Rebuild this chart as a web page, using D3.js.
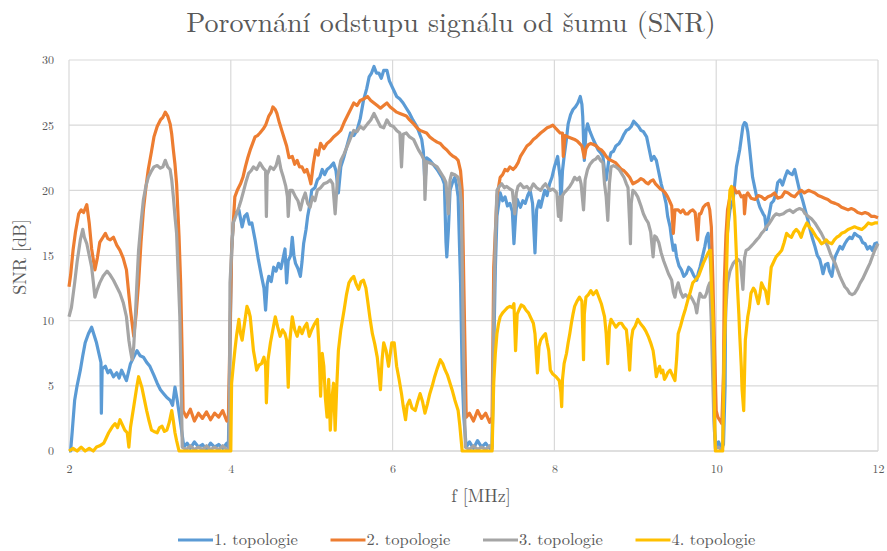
<!DOCTYPE html>
<html>
<head>
<meta charset="utf-8">
<script src="https://cdn.jsdelivr.net/npm/d3@7"></script>
<style>
  body { margin: 0; background: #fff; }
  svg text { font-family: "Latin Modern Roman", "Liberation Serif", serif; fill: #595959; }
</style>
</head>
<body>
<svg></svg>
<script>
let width = 887, height = 551;

// SNR [dB] vs f [MHz]
const topo1 = [[2.00,0],[2.02,0],[2.04,1.5],[2.07,3.9],[2.10,5.0],[2.14,6.2],[2.17,7.3],[2.20,8.3],[2.24,9.0],[2.28,9.5],[2.31,8.9],[2.34,8.3],[2.38,7.2],[2.395,6.8],[2.40,2.9],[2.41,6.3],[2.45,6.5],[2.48,6.0],[2.51,6.2],[2.55,5.7],[2.59,6.0],[2.62,5.6],[2.65,6.2],[2.68,5.8],[2.71,5.4],[2.76,6.7],[2.80,7.2],[2.84,7.7],[2.88,7.3],[2.92,7.2],[2.96,6.8],[3.00,6.5],[3.05,5.8],[3.09,5.2],[3.13,4.7],[3.17,4.4],[3.21,4.1],[3.25,3.9],[3.28,3.5],[3.31,4.9],[3.34,3.8],[3.38,2.1],[3.42,0.3],[3.46,0.6],[3.50,0.2],[3.55,0.7],[3.60,0.3],[3.65,0.5],[3.70,0.1],[3.75,0.6],[3.80,0.3],[3.85,0.5],[3.90,0.2],[3.95,0.6],[3.97,0.2],[3.99,8.0],[4.01,15.4],
  [4.03,17.5],[4.05,18.2],[4.10,18.5],[4.14,17.2],[4.17,18.0],[4.20,18.2],[4.23,17.4],[4.26,17.5],[4.30,16.2],[4.34,14.7],[4.38,13.4],[4.41,12.5],[4.43,10.8],[4.45,12.8],[4.47,13.4],[4.50,13.0],[4.53,14.1],[4.56,13.8],[4.59,14.4],[4.62,14.0],[4.65,14.9],[4.67,15.5],[4.69,12.9],[4.71,14.6],[4.74,15.0],[4.76,16.4],[4.78,15.0],[4.80,14.4],[4.83,14.0],[4.86,13.4],[4.88,14.5],[4.90,15.9],[4.93,17.0],[4.95,18.0],[4.98,19.0],[5.00,20.0],[5.04,20.2],[5.07,20.8],[5.10,21.0],[5.13,21.6],[5.16,21.2],[5.19,21.6],[5.23,21.8],[5.27,22.1],[5.30,21.5],[5.33,19.8],[5.36,21.8],[5.40,22.6],[5.44,23.5],[5.48,24.4],[5.52,24.2],[5.56,24.6],[5.60,25.5],[5.64,26.9],[5.68,27.8],[5.71,28.7],[5.74,29.0],[5.77,29.5],[5.80,29.0],[5.83,29.0],[5.86,28.6],[5.89,29.2],[5.93,29.2],[5.96,28.4],[5.99,28.0],[6.02,27.6],[6.05,27.2],[6.09,27.0],[6.13,26.7],[6.17,26.3],[6.21,25.9],[6.25,25.4],[6.30,24.9],[6.33,24.4],[6.36,23.9],[6.38,23.0],[6.40,20.5],[6.42,22.5],[6.46,22.3],[6.50,22.0],[6.55,21.6],[6.58,21.3],[6.61,21.0],[6.64,20.5],[6.66,16.0],[6.67,14.9],[6.69,17.0],[6.71,20.0],[6.74,20.6],[6.77,21.0],[6.79,20.4],[6.81,19.5],[6.84,12.9],[6.86,6.0],[6.88,2.6],[6.91,0.3],[6.95,0.7],[7.00,0.2],[7.05,0.8],[7.10,0.3],[7.15,0.6],[7.20,0.2],[7.23,0.4],[7.25,7.7],[7.27,14.0],[7.29,18.0],[7.33,19.8],[7.36,19.2],[7.39,19.5],[7.42,18.8],[7.45,19.0],[7.48,18.4],[7.50,15.9],[7.52,18.0],[7.54,19.3],[7.58,18.7],[7.61,19.2],[7.64,19.0],[7.67,19.6],[7.70,20.0],[7.73,19.0],[7.76,15.2],[7.78,18.5],[7.81,19.2],[7.83,18.7],[7.86,19.5],[7.88,20.0],[7.91,19.6],[7.94,20.5],[7.97,21.0],
  [8.00,21.8],[8.04,22.6],[8.07,21.0],[8.08,19.0],[8.10,21.5],[8.12,22.6],[8.15,24.0],[8.17,25.1],[8.20,25.8],[8.23,26.2],[8.26,26.4],[8.29,26.7],[8.32,27.2],[8.34,26.6],[8.35,25.7],[8.37,22.3],[8.39,24.5],[8.41,25.1],[8.44,24.5],[8.48,23.9],[8.51,23.5],[8.54,23.1],[8.57,22.9],[8.60,22.6],[8.62,21.5],[8.64,20.8],[8.67,22.2],[8.70,22.9],[8.73,23.0],[8.76,23.4],[8.80,23.6],[8.83,23.9],[8.86,24.3],[8.89,24.6],[8.92,24.7],[8.95,24.9],[8.98,25.3],[9.01,25.1],[9.04,24.9],[9.07,24.6],[9.10,24.5],[9.14,24.1],[9.17,23.2],[9.20,22.3],[9.23,22.6],[9.26,22.3],[9.29,21.4],[9.32,20.5],[9.35,19.8],[9.38,19.0],[9.40,18.0],[9.43,17.2],[9.45,16.2],[9.47,15.4],[9.49,15.8],[9.51,14.9],[9.54,14.2],[9.57,13.9],[9.60,13.4],[9.63,13.6],[9.66,14.1],[9.69,13.9],[9.72,13.5],[9.76,13.1],[9.78,13.7],[9.80,14.1],[9.83,14.9],[9.86,15.7],[9.88,16.4],[9.90,16.7],[9.92,15.4],[9.94,13.4],[9.96,7.7],[9.98,1.4],[10.00,0.3],[10.03,0.7],[10.06,0.2],[10.09,0.5],[10.11,5.0],[10.12,15.4],[10.15,17.5],[10.17,18.5],[10.21,19.3],[10.25,21.8],[10.29,23.1],[10.31,24.0],[10.33,24.9],[10.35,25.2],[10.37,25.1],[10.39,24.5],[10.41,23.4],[10.43,22.2],[10.45,21.0],[10.50,19.5],[10.54,18.7],[10.58,18.2],[10.60,18.0],[10.62,17.0],[10.65,18.0],[10.68,19.0],[10.71,19.2],[10.74,19.8],[10.76,20.6],[10.79,20.8],[10.82,20.4],[10.85,21.0],[10.88,21.5],[10.91,21.3],[10.94,21.2],[10.97,21.6],[11.00,20.8],[11.03,20.0],[11.07,19.2],[11.10,18.5],[11.13,17.8],[11.16,17.0],[11.19,16.3],[11.22,15.7],[11.25,15.0],[11.28,14.7],[11.30,14.2],[11.32,13.6],[11.35,14.3],[11.38,14.4],[11.40,13.8],[11.43,13.4],[11.45,14.2],[11.47,14.9],[11.50,15.3],[11.53,15.7],[11.56,15.5],[11.59,15.9],[11.62,16.2],[11.65,16.4],[11.68,16.3],[11.71,16.7],[11.75,16.5],[11.78,16.4],[11.81,16.0],[11.84,15.9],[11.87,15.5],[11.90,15.7],[11.93,15.4],[11.96,15.9],[12.00,16.0]];

const topo2 = [[2.00,12.6],[2.02,13.5],[2.05,15.4],[2.08,16.8],[2.12,18.2],[2.15,18.5],[2.18,18.3],[2.22,18.9],[2.25,17.5],[2.28,15.5],[2.32,13.9],[2.35,14.8],[2.38,16.0],[2.42,16.4],[2.45,16.7],[2.48,16.3],[2.51,16.2],[2.55,16.4],[2.59,15.8],[2.63,15.4],[2.67,14.8],[2.71,13.9],[2.74,12.0],[2.76,10.8],[2.80,8.8],[2.83,10.5],[2.86,12.9],[2.89,16.0],[2.92,18.5],[2.95,20.2],[2.98,21.6],[3.02,23.0],[3.05,24.1],[3.09,24.9],[3.13,25.4],[3.16,25.6],[3.19,26.0],[3.22,25.7],[3.25,25.1],[3.27,24.3],[3.29,23.1],[3.31,22.0],[3.33,20.5],[3.36,16.5],[3.38,12.9],[3.40,7.0],[3.41,3.1],[3.45,2.6],[3.50,3.2],[3.55,2.3],[3.60,2.9],[3.65,2.5],[3.70,3.0],[3.75,2.4],[3.80,2.9],[3.85,2.6],[3.90,3.1],[3.95,2.3],[3.97,2.5],
  [4.01,15.4],[4.05,19.5],[4.08,20.0],[4.12,20.5],[4.15,21.0],[4.18,21.8],[4.21,22.5],[4.24,23.1],[4.27,23.6],[4.30,24.1],[4.33,24.2],[4.36,24.4],[4.40,24.7],[4.43,25.0],[4.47,25.7],[4.50,26.0],[4.52,26.4],[4.55,26.2],[4.57,25.9],[4.60,25.2],[4.63,24.6],[4.66,24.0],[4.69,23.4],[4.72,22.5],[4.76,22.6],[4.79,22.0],[4.82,22.3],[4.85,21.8],[4.88,21.8],[4.91,21.4],[4.94,21.6],[4.97,21.0],[4.99,20.5],[5.02,22.0],[5.05,23.1],[5.08,22.7],[5.11,23.6],[5.15,23.2],[5.19,23.6],[5.23,23.8],[5.27,24.1],[5.31,24.3],[5.36,24.6],[5.40,25.2],[5.44,25.7],[5.48,26.2],[5.52,26.7],[5.56,26.5],[5.60,26.9],[5.64,27.0],[5.69,27.2],[5.73,26.9],[5.77,26.7],[5.81,26.5],[5.85,26.3],[5.89,26.5],[5.93,26.7],[5.97,26.4],[6.01,26.2],[6.05,26.0],[6.09,25.9],[6.13,25.8],[6.17,25.7],[6.21,25.4],[6.26,25.1],[6.30,24.8],[6.34,24.6],[6.38,24.5],[6.42,24.4],[6.46,24.1],[6.50,23.9],[6.55,23.7],[6.59,23.6],[6.63,23.3],[6.67,23.1],[6.71,22.8],[6.75,22.6],[6.78,22.5],[6.81,22.3],[6.84,21.5],[6.86,20.0],[6.88,12.9],[6.91,2.6],[6.95,2.9],[7.00,2.3],[7.05,3.1],[7.10,2.5],[7.15,2.9],[7.20,2.2],[7.23,2.6],[7.25,14.1],[7.29,19.5],[7.33,21.0],[7.36,21.2],[7.39,21.6],[7.42,21.5],[7.45,21.8],[7.49,21.6],[7.52,21.8],[7.55,22.1],[7.58,22.6],[7.62,23.0],[7.66,23.4],[7.70,23.6],[7.74,23.9],[7.78,24.1],[7.83,24.4],[7.87,24.6],[7.91,24.8],[7.95,24.9],[7.98,25.0],
  [8.01,24.8],[8.04,24.6],[8.07,24.4],[8.10,24.4],[8.11,22.6],[8.13,24.2],[8.17,24.1],[8.21,24.0],[8.25,23.9],[8.28,23.8],[8.31,23.6],[8.34,23.4],[8.37,22.5],[8.39,23.2],[8.42,23.5],[8.45,23.6],[8.49,23.5],[8.52,23.4],[8.55,23.2],[8.58,23.1],[8.61,22.9],[8.64,22.6],[8.67,22.4],[8.70,22.3],[8.73,22.2],[8.76,22.1],[8.80,21.8],[8.83,21.6],[8.86,21.5],[8.89,21.3],[8.93,21.0],[8.97,20.5],[9.00,20.6],[9.03,20.7],[9.07,20.9],[9.10,20.8],[9.13,20.6],[9.16,20.5],[9.19,20.7],[9.22,20.8],[9.25,20.5],[9.28,20.3],[9.31,20.1],[9.34,20.0],[9.37,19.8],[9.40,19.5],[9.43,19.1],[9.45,18.8],[9.47,16.7],[9.49,18.5],[9.53,18.5],[9.56,18.3],[9.59,18.5],[9.62,18.2],[9.65,18.2],[9.68,18.4],[9.71,18.5],[9.74,18.3],[9.77,16.2],[9.79,18.2],[9.81,18.2],[9.84,18.7],[9.87,18.9],[9.90,19.0],[9.92,18.5],[9.94,17.2],[9.96,12.9],[9.97,10.3],[9.98,7.7],[10.00,3.1],[10.02,2.6],[10.04,2.4],[10.07,2.1],[10.09,6.0],[10.10,12.9],[10.12,16.5],[10.14,18.5],[10.17,19.5],[10.19,20.0],[10.22,20.2],[10.25,19.8],[10.28,19.9],[10.31,19.5],[10.34,19.6],[10.35,18.2],[10.37,19.6],[10.39,19.8],[10.43,19.4],[10.48,19.3],[10.52,19.6],[10.56,19.5],[10.60,19.3],[10.64,19.5],[10.68,19.6],[10.72,19.8],[10.76,19.4],[10.81,19.5],[10.85,19.9],[10.89,19.8],[10.93,19.6],[10.97,19.5],[11.01,19.8],[11.05,20.0],[11.09,19.8],[11.14,20.0],[11.18,19.9],[11.22,19.8],[11.26,19.6],[11.30,19.5],[11.34,19.4],[11.38,19.3],[11.42,19.1],[11.47,19.0],[11.51,18.9],[11.55,18.7],[11.59,18.6],[11.63,18.5],[11.67,18.6],[11.71,18.5],[11.75,18.3],[11.80,18.2],[11.84,18.3],[11.88,18.2],[11.92,18.0],[11.96,18.0],[12.00,17.9]];

const topo3 = [[2.00,10.3],[2.03,11.0],[2.07,12.9],[2.10,14.5],[2.14,16.2],[2.17,17.0],[2.19,16.4],[2.22,15.9],[2.25,15.0],[2.28,14.1],[2.30,13.0],[2.32,11.8],[2.35,12.4],[2.38,12.9],[2.42,13.4],[2.47,13.8],[2.51,13.5],[2.55,13.1],[2.59,12.6],[2.63,12.1],[2.67,11.4],[2.71,10.3],[2.74,8.5],[2.76,7.7],[2.78,7.0],[2.80,8.0],[2.82,10.3],[2.84,13.0],[2.86,15.4],[2.89,17.5],[2.92,19.3],[2.95,20.3],[2.98,21.0],[3.02,21.5],[3.05,21.8],[3.09,21.9],[3.13,21.7],[3.16,21.8],[3.19,22.3],[3.22,21.8],[3.25,21.6],[3.27,20.8],[3.29,19.5],[3.31,18.0],[3.33,16.7],[3.35,13.5],[3.37,10.3],[3.39,4.0],[3.40,0.3],[3.45,0.1],[3.50,0.4],[3.55,0.1],[3.60,0.3],[3.65,0.1],[3.70,0.4],[3.75,0.1],[3.80,0.3],[3.85,0.1],[3.90,0.4],[3.95,0.1],[3.98,0.2],
  [3.99,12.9],[4.03,17.5],[4.06,18.0],[4.10,18.7],[4.13,19.3],[4.16,20.0],[4.19,20.7],[4.22,21.3],[4.25,21.5],[4.28,21.8],[4.32,21.6],[4.36,22.1],[4.40,21.7],[4.43,21.5],[4.44,18.0],[4.45,21.2],[4.49,21.8],[4.53,21.6],[4.56,21.9],[4.59,22.6],[4.62,21.6],[4.65,21.0],[4.68,20.3],[4.70,19.5],[4.71,18.0],[4.73,20.0],[4.76,20.0],[4.80,19.5],[4.83,19.2],[4.86,18.5],[4.89,19.3],[4.92,19.8],[4.95,19.0],[4.98,18.7],[5.01,19.5],[5.04,19.2],[5.07,20.0],[5.11,20.2],[5.15,20.5],[5.19,20.6],[5.23,20.8],[5.26,20.5],[5.29,18.2],[5.32,21.0],[5.36,22.3],[5.40,22.8],[5.44,23.4],[5.48,24.0],[5.52,24.6],[5.56,24.5],[5.60,24.9],[5.64,24.7],[5.69,25.1],[5.73,25.4],[5.77,25.9],[5.81,25.4],[5.85,24.9],[5.89,24.8],[5.93,25.4],[5.97,25.0],[6.01,24.9],[6.05,24.6],[6.09,24.4],[6.11,21.8],[6.13,24.3],[6.17,24.4],[6.21,24.1],[6.26,23.9],[6.29,23.5],[6.32,23.1],[6.36,22.7],[6.39,22.3],[6.40,19.3],[6.42,22.2],[6.46,22.1],[6.50,22.0],[6.55,21.8],[6.59,21.4],[6.63,21.0],[6.66,20.6],[6.69,18.2],[6.71,20.8],[6.73,21.3],[6.77,21.2],[6.81,21.0],[6.83,20.3],[6.85,19.0],[6.87,10.3],[6.89,3.0],[6.90,0.3],[6.95,0.1],[7.00,0.4],[7.05,0.1],[7.10,0.3],[7.15,0.1],[7.20,0.4],[7.23,0.2],[7.25,10.3],[7.27,16.5],[7.29,20.0],[7.32,20.3],[7.35,20.5],[7.38,20.2],[7.41,20.3],[7.45,20.1],[7.48,20.0],[7.51,18.2],[7.53,19.8],[7.55,20.3],[7.58,20.5],[7.62,20.2],[7.66,20.3],[7.70,20.0],[7.74,20.5],[7.78,20.2],[7.83,20.0],[7.86,20.3],[7.89,20.5],[7.92,20.2],[7.95,20.0],[7.98,20.1],
  [8.00,20.0],[8.03,19.8],[8.05,18.0],[8.07,19.5],[8.08,17.7],[8.10,19.6],[8.12,19.8],[8.15,20.0],[8.19,20.3],[8.22,20.6],[8.25,21.0],[8.28,20.8],[8.31,21.0],[8.33,20.5],[8.36,18.5],[8.38,20.8],[8.41,21.6],[8.44,22.0],[8.48,22.3],[8.51,22.4],[8.54,22.6],[8.57,22.3],[8.60,22.1],[8.62,20.5],[8.64,19.5],[8.66,17.7],[8.68,20.5],[8.70,21.8],[8.73,21.9],[8.76,21.8],[8.80,21.6],[8.83,21.3],[8.86,21.0],[8.89,20.5],[8.91,20.2],[8.93,17.5],[8.94,15.9],[8.95,19.0],[8.97,20.0],[9.00,19.8],[9.03,19.5],[9.07,18.8],[9.10,18.2],[9.13,17.8],[9.16,17.5],[9.19,16.8],[9.22,14.9],[9.24,16.5],[9.26,16.4],[9.29,16.0],[9.32,15.2],[9.35,14.6],[9.38,14.1],[9.41,13.6],[9.45,13.1],[9.47,12.2],[9.49,11.8],[9.51,12.5],[9.53,12.9],[9.56,12.2],[9.59,11.8],[9.62,12.0],[9.65,11.8],[9.68,11.9],[9.71,11.6],[9.74,11.2],[9.76,10.6],[9.78,11.5],[9.80,12.1],[9.83,11.8],[9.86,11.8],[9.88,12.1],[9.90,12.6],[9.92,12.9],[9.94,9.8],[9.96,5.0],[9.97,2.6],[9.99,0.2],[10.03,0.3],[10.06,0.1],[10.08,0.3],[10.10,7.7],[10.12,11.0],[10.14,12.9],[10.17,13.8],[10.21,14.4],[10.24,14.6],[10.27,14.7],[10.30,14.5],[10.33,12.4],[10.35,14.8],[10.37,15.4],[10.40,15.5],[10.43,15.7],[10.46,15.9],[10.50,16.2],[10.53,16.4],[10.56,16.7],[10.59,16.9],[10.62,17.2],[10.65,17.4],[10.68,17.7],[10.71,18.0],[10.74,18.2],[10.78,18.1],[10.83,18.2],[10.87,18.4],[10.91,18.5],[10.95,18.3],[10.99,18.5],[11.03,18.6],[11.07,18.5],[11.10,18.2],[11.14,18.0],[11.18,17.8],[11.22,17.5],[11.26,17.1],[11.30,16.7],[11.34,16.2],[11.38,15.7],[11.42,15.0],[11.47,14.4],[11.50,13.9],[11.53,13.4],[11.56,13.0],[11.59,12.6],[11.62,12.4],[11.65,12.1],[11.68,12.0],[11.71,12.1],[11.75,12.5],[11.78,12.9],[11.81,13.2],[11.84,13.6],[11.87,14.0],[11.90,14.4],[11.93,14.9],[11.96,15.4],[12.00,15.9]];

const topo4 = [[2.00,0],[2.05,0.2],[2.10,0],[2.15,0.3],[2.20,0],[2.25,0.2],[2.30,0],[2.34,0.3],[2.38,0.4],[2.43,0.6],[2.46,1.0],[2.49,1.4],[2.51,1.6],[2.54,1.9],[2.57,2.1],[2.60,1.8],[2.63,2.4],[2.66,2.0],[2.69,1.6],[2.72,1.4],[2.74,0.3],[2.76,1.8],[2.78,2.6],[2.80,3.4],[2.82,4.2],[2.84,5.0],[2.86,5.7],[2.88,5.3],[2.90,4.9],[2.93,4.0],[2.96,3.1],[2.99,2.3],[3.02,1.6],[3.05,1.5],[3.09,1.4],[3.12,1.8],[3.15,1.9],[3.18,1.5],[3.21,1.6],[3.24,2.2],[3.27,3.1],[3.29,2.3],[3.31,1.4],[3.33,0.8],[3.36,0],[3.70,0],[4.00,0],
  [4.01,5.2],[4.03,6.5],[4.05,7.7],[4.07,8.8],[4.10,10.1],[4.12,9.0],[4.14,8.5],[4.17,9.8],[4.20,11.1],[4.22,10.8],[4.24,10.3],[4.26,9.0],[4.28,7.7],[4.30,7.0],[4.32,6.2],[4.35,6.6],[4.38,6.7],[4.41,7.2],[4.43,6.5],[4.44,3.7],[4.46,7.0],[4.49,8.3],[4.52,9.3],[4.55,10.3],[4.58,9.5],[4.61,8.8],[4.64,9.3],[4.67,9.0],[4.69,8.5],[4.71,4.9],[4.73,8.5],[4.76,10.3],[4.79,9.3],[4.82,8.8],[4.85,9.5],[4.88,9.0],[4.91,9.5],[4.94,9.8],[4.97,8.8],[5.00,9.3],[5.03,9.7],[5.07,10.1],[5.09,8.0],[5.11,4.2],[5.13,7.5],[5.15,6.5],[5.17,4.0],[5.19,2.6],[5.21,5.5],[5.23,1.6],[5.25,4.0],[5.27,5.2],[5.29,1.6],[5.31,5.0],[5.33,7.7],[5.36,9.3],[5.40,10.8],[5.43,12.0],[5.46,12.9],[5.49,13.2],[5.52,13.4],[5.55,12.8],[5.58,12.4],[5.61,13.0],[5.64,13.1],[5.67,12.5],[5.69,11.6],[5.72,10.2],[5.75,9.0],[5.78,8.2],[5.81,7.2],[5.83,6.0],[5.85,4.7],[5.87,7.0],[5.89,8.3],[5.92,7.7],[5.95,6.5],[5.99,8.3],[6.02,8.3],[6.05,6.5],[6.08,5.5],[6.11,4.4],[6.13,3.5],[6.16,2.4],[6.18,3.5],[6.21,3.9],[6.24,3.3],[6.28,3.1],[6.31,3.8],[6.34,4.4],[6.37,3.8],[6.40,2.9],[6.43,3.6],[6.46,4.4],[6.49,5.0],[6.52,5.7],[6.55,6.3],[6.59,7.0],[6.62,6.7],[6.65,6.2],[6.68,5.8],[6.71,5.2],[6.74,4.6],[6.77,3.9],[6.79,3.5],[6.81,3.1],[6.83,2.0],[6.86,0],[7.05,0],[7.23,0],
  [7.25,5.2],[7.27,7.5],[7.29,9.0],[7.31,9.8],[7.33,10.3],[7.36,10.6],[7.39,10.8],[7.42,11.0],[7.45,11.1],[7.48,11.0],[7.50,11.3],[7.52,7.7],[7.54,10.5],[7.56,10.8],[7.59,11.2],[7.62,11.1],[7.65,10.8],[7.68,10.6],[7.71,10.2],[7.74,9.8],[7.76,9.0],[7.79,6.0],[7.81,8.0],[7.83,8.5],[7.86,8.8],[7.89,9.0],[7.91,8.3],[7.93,7.7],[7.95,6.2],[7.98,5.9],[8.02,5.7],[8.06,5.4],[8.08,4.5],[8.09,3.4],[8.10,5.5],[8.12,6.7],[8.15,7.5],[8.17,8.3],[8.19,9.0],[8.21,9.8],[8.23,10.5],[8.25,11.1],[8.28,11.5],[8.31,11.8],[8.34,11.5],[8.36,7.0],[8.37,10.5],[8.39,11.8],[8.42,12.0],[8.45,12.3],[8.48,12.0],[8.52,12.3],[8.55,11.8],[8.58,11.3],[8.60,10.8],[8.62,10.3],[8.64,9.0],[8.66,6.7],[8.68,9.5],[8.70,10.1],[8.73,9.8],[8.76,9.5],[8.80,9.8],[8.83,9.8],[8.86,9.5],[8.89,9.3],[8.91,8.0],[8.93,6.2],[8.95,8.5],[8.97,9.3],[9.00,9.6],[9.03,10.1],[9.06,9.8],[9.10,9.5],[9.13,9.2],[9.16,8.8],[9.19,8.3],[9.22,7.7],[9.24,6.8],[9.26,5.7],[9.28,6.2],[9.30,6.5],[9.32,6.0],[9.34,6.2],[9.36,5.5],[9.38,5.7],[9.40,6.0],[9.43,6.2],[9.46,5.8],[9.49,5.4],[9.51,7.0],[9.53,9.0],[9.56,9.6],[9.59,10.3],[9.62,10.9],[9.65,11.6],[9.68,12.2],[9.71,12.9],[9.74,13.1],[9.78,13.4],[9.81,13.9],[9.84,14.4],[9.87,14.8],[9.90,15.2],[9.92,15.4],[9.93,15.4],[9.94,12.9],[9.96,10.3],[9.97,7.7],[9.98,2.6],[9.99,0],[10.05,0],[10.08,0],
  [10.10,7.7],[10.12,12.0],[10.14,16.7],[10.17,20.0],[10.19,20.3],[10.21,19.5],[10.23,18.0],[10.25,15.0],[10.26,12.9],[10.28,10.5],[10.29,9.0],[10.31,6.5],[10.32,4.7],[10.34,3.1],[10.36,8.5],[10.39,10.3],[10.41,11.0],[10.43,12.1],[10.46,12.5],[10.48,12.3],[10.50,11.8],[10.52,11.3],[10.54,12.0],[10.56,12.9],[10.59,12.5],[10.61,12.3],[10.64,11.3],[10.66,12.8],[10.68,14.1],[10.71,14.5],[10.74,14.9],[10.77,15.1],[10.81,15.4],[10.84,16.0],[10.87,16.7],[10.90,16.5],[10.93,16.4],[10.96,16.8],[10.99,17.0],[11.02,16.8],[11.05,16.4],[11.08,17.0],[11.12,17.5],[11.15,17.2],[11.18,17.0],[11.21,16.7],[11.24,16.4],[11.27,16.2],[11.30,15.9],[11.33,16.0],[11.36,16.2],[11.39,16.0],[11.43,15.9],[11.46,16.2],[11.49,16.4],[11.52,16.5],[11.55,16.7],[11.59,16.8],[11.63,17.0],[11.67,17.1],[11.71,17.2],[11.75,17.1],[11.80,17.0],[11.84,17.2],[11.88,17.5],[11.92,17.4],[11.96,17.5],[12.00,17.5]];

const seriesNames = ["1. topologie", "2. topologie", "3. topologie", "4. topologie"];
const seriesColors = ["#5B9BD5", "#ED7D31", "#A5A5A5", "#FFC000"];
const xTicks = [2, 4, 6, 8, 10, 12];
const yTicks = [0, 5, 10, 15, 20, 25, 30];

let svg = d3.select("svg")
    .attr("width", width)
    .attr("height", height);

let margin = { left: 69, right: 9, top: 60, bottom: 100 };

let x = d3.scaleLinear().domain([2, 12]).range([margin.left, width - margin.right]);
let y = d3.scaleLinear().domain([0, 30]).range([height - margin.bottom, margin.top]);

// grid
svg.append("g")
    .selectAll("line.h")
    .data(yTicks)
    .enter()
    .append("line")
    .attr("x1", x(2)).attr("x2", x(12))
    .attr("y1", d => y(d)).attr("y2", d => y(d))
    .attr("stroke", d => d === 0 ? "#BFBFBF" : "#D9D9D9")
    .attr("stroke-width", 1.2);

svg.append("g")
    .selectAll("line.v")
    .data(xTicks)
    .enter()
    .append("line")
    .attr("x1", d => x(d)).attr("x2", d => x(d))
    .attr("y1", y(0)).attr("y2", y(30))
    .attr("stroke", "#D9D9D9")
    .attr("stroke-width", 1.2);

// axes labels (no domain lines, Excel style)
let xAxis = svg.append("g")
    .attr("transform", "translate(0," + (y(0) + 9) + ")")
    .call(d3.axisBottom(x).tickValues(xTicks).tickSize(0).tickPadding(4));
let yAxis = svg.append("g")
    .attr("transform", "translate(" + (x(2) - 12) + ",0)")
    .call(d3.axisLeft(y).tickValues(yTicks).tickSize(0).tickPadding(3));
[xAxis, yAxis].forEach(a => {
    a.attr("font-family", null);
    a.select(".domain").remove();
    a.selectAll("text").attr("font-size", "12px").style("fill", "#595959");
});

// lines
let line = d3.line()
    .x(d => x(d[0]))
    .y(d => y(d[1]));

[topo1, topo2, topo3, topo4].forEach((s, i) => {
    svg.append("path")
        .datum(s)
        .attr("d", line)
        .attr("fill", "none")
        .attr("stroke", seriesColors[i])
        .attr("stroke-width", 3.2)
        .attr("stroke-linejoin", "round");
});

// titles
svg.append("text")
    .attr("x", 451)
    .attr("y", 32)
    .attr("text-anchor", "middle")
    .attr("font-size", "28px")
    .text("Porovnání odstupu signálu od šumu (SNR)");

svg.append("text")
    .attr("x", 481)
    .attr("y", 502)
    .attr("text-anchor", "middle")
    .attr("font-size", "18px")
    .text("f [MHz]");

svg.append("text")
    .attr("transform", "translate(26,257) rotate(-90)")
    .attr("text-anchor", "middle")
    .attr("font-size", "18px")
    .text("SNR [dB]");

// legend
let legend = svg.append("g")
    .selectAll("g")
    .data(seriesNames)
    .enter()
    .append("g")
    .attr("transform", (d, i) => "translate(" + (178 + i * 152.5) + ",540)");

legend.append("line")
    .attr("x1", 0).attr("x2", 35)
    .attr("stroke", (d, i) => seriesColors[i])
    .attr("stroke-width", 3.2);

legend.append("text")
    .attr("x", 36)
    .attr("y", 5)
    .attr("font-size", "16.5px")
    .text(d => d);
</script>
</body>
</html>
